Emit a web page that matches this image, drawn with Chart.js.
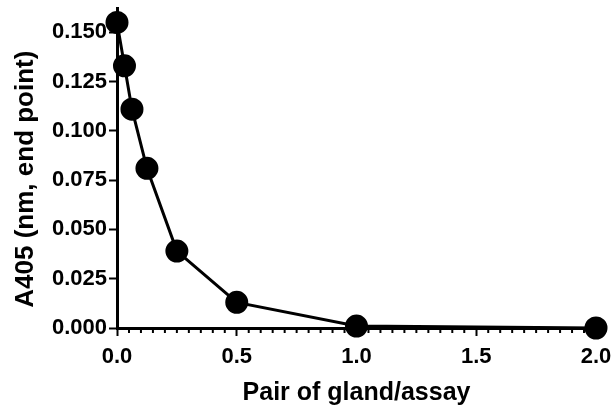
<!DOCTYPE html>
<html>
<head>
<meta charset="utf-8">
<script src="https://cdn.jsdelivr.net/npm/chart.js@4"></script>
<style>
  html, body { margin: 0; padding: 0; background: #fff; }
  #wrap { width: 615px; height: 412px; }
</style>
</head>
<body>
<div id="wrap"><canvas id="myChart"></canvas></div>
<script>
// data
var pairs = [0, 0.03125, 0.0625, 0.125, 0.25, 0.5, 1.0, 2.0];
var a405 = [0.155, 0.133, 0.111, 0.081, 0.039, 0.013, 0.001, 0.000];
var x_title = 'Pair of gland/assay';
var y_title = 'A405 (nm, end point)   ';  // trailing spaces push it down a bit, like the original

var points = pairs.map(function (x, i) { return { x: x, y: a405[i] }; });

var font_name = '"Liberation Sans", Arial, sans-serif';

// short minor ticks under the x axis (major ones are drawn by Chart.js)
var minorTicks = {
  id: 'minorTicks',
  afterDraw: function (chart) {
    var sc = chart.scales.x;
    var ctx = chart.ctx;
    ctx.save();
    ctx.strokeStyle = '#000';
    ctx.lineWidth = 2;
    sc.ticks.forEach(function (t) {
      var v = Math.round(t.value * 100);
      if (v % 50 === 0) return;
      var px = sc.getPixelForValue(t.value);
      ctx.beginPath();
      ctx.moveTo(px, sc.top);
      ctx.lineTo(px, sc.top + 5);
      ctx.stroke();
    });
    ctx.restore();
  }
};

var config = {
  type: 'scatter',
  data: {
    datasets: [{
      data: points,
      showLine: true,
      borderColor: '#000',
      backgroundColor: '#000',
      borderWidth: 3,
      pointRadius: 10,
      pointHoverRadius: 10,
      tension: 0,
      clip: false
    }]
  },
  options: {
    responsive: true,
    maintainAspectRatio: false,
    animation: false,
    layout: {
      autoPadding: false,
      padding: { left: 0, right: 19, top: 7, bottom: 0 }
    },
    plugins: {
      legend: { display: false },
      tooltip: { enabled: false }
    },
    scales: {
      x: {
        type: 'linear',
        min: 0,
        max: 2,
        afterFit: function (scale) {
          scale.height = 84;
          scale.paddingLeft = 0;
          scale.paddingRight = 0;
        },
        border: { display: true, color: '#000', width: 3 },
        grid: {
          drawOnChartArea: false,
          drawTicks: true,
          tickLength: 8,
          tickWidth: 2,
          tickColor: function (c) {
            if (!c.tick) return '#000';
            return Math.round(c.tick.value * 100) % 50 === 0 ? '#000' : 'rgba(0,0,0,0)';
          }
        },
        ticks: {
          stepSize: 0.05,
          autoSkip: false,
          maxRotation: 0,
          color: '#000',
          padding: 8,
          font: { family: font_name, size: 22, weight: 'bold' },
          callback: function (v) {
            return Math.round(v * 100) % 50 === 0 ? v.toFixed(1) : '';
          }
        },
        title: {
          display: true,
          text: x_title,
          color: '#000',
          padding: { top: 4, bottom: 4 },
          font: { family: font_name, size: 25, weight: 'bold' }
        }
      },
      y: {
        type: 'linear',
        min: 0,
        max: 0.162,
        afterFit: function (scale) { scale.width = 117; },
        border: { display: true, color: '#000', width: 3 },
        grid: {
          drawOnChartArea: false,
          drawTicks: true,
          tickLength: 8,
          tickWidth: 2,
          tickColor: '#000'
        },
        ticks: {
          stepSize: 0.025,
          includeBounds: false,
          color: '#000',
          padding: 2,
          // small lineHeight so the top label doesn't push the plot area down
          font: { family: font_name, size: 22, weight: 'bold', lineHeight: 0.6 },
          callback: function (v) { return v.toFixed(3); }
        },
        title: {
          display: true,
          text: y_title,
          color: '#000',
          padding: { top: 10, bottom: 4 },
          font: { family: font_name, size: 26, weight: 'bold' }
        }
      }
    }
  },
  plugins: [minorTicks]
};

var myChart = new Chart(document.getElementById('myChart'), config);
</script>
</body>
</html>
